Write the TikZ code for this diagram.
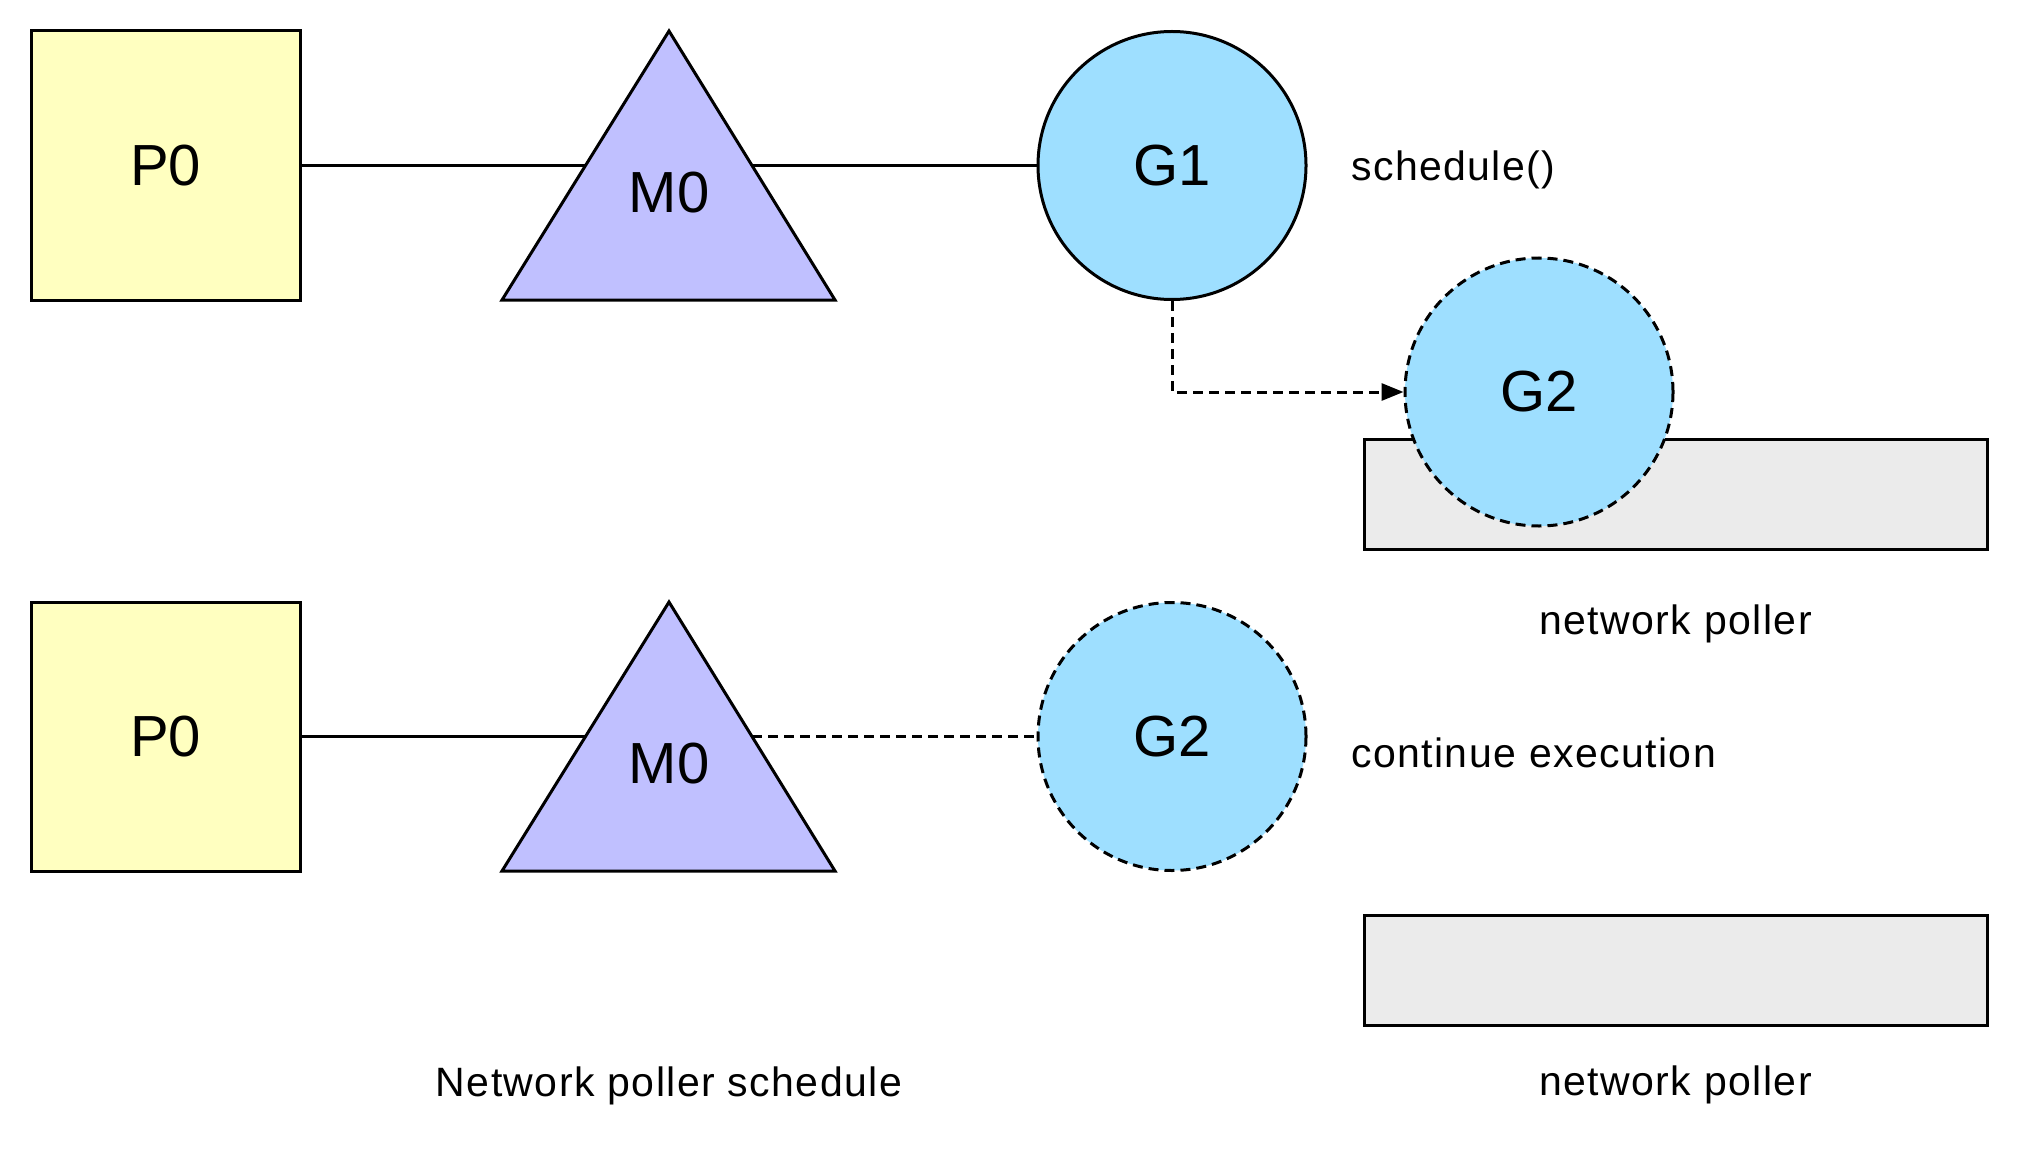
\documentclass[tikz,border=0pt]{standalone}
\usepackage{fontspec}
\setmainfont{Liberation Sans}
\newfontfamily\lblfont[LetterSpace=3.5]{Liberation Sans}
\usetikzlibrary{arrows.meta,calc}
\definecolor{pyellow}{HTML}{FFFFC0}
\definecolor{mpurple}{HTML}{C0C0FF}
\definecolor{gblue}{HTML}{9EDFFF}
\definecolor{pgray}{HTML}{EBEBEB}
\newcommand\mynodefont{\fontsize{58}{62}\selectfont}
\newcommand\mylblfont{\lblfont\fontsize{41}{46}\selectfont}
\begin{document}
\begin{tikzpicture}[x=1pt,y=-1pt,
  edge/.style={line width=3pt},
  dashedge/.style={line width=3pt, dash pattern=on 10pt off 6pt},
  pbox/.style={draw, line width=3pt, fill=pyellow, minimum width=269pt, minimum height=269pt, inner sep=0pt, font=\mynodefont},
  gcirc/.style={circle, draw, line width=3pt, fill=gblue, minimum size=268pt, inner sep=0pt, font=\mynodefont},
  gdash/.style={gcirc, dash pattern=on 10pt off 6pt},
  poller/.style={draw, line width=3pt, fill=pgray, minimum width=623pt, minimum height=110pt, inner sep=0pt},
  tri/.style={draw, line width=3pt, fill=mpurple, line join=miter},
  lbl/.style={font=\mylblfont, inner sep=0pt},
  mlabel/.style={font=\mynodefont, inner sep=0pt}
]
\useasboundingbox (0,0) rectangle (2020,1150);

% ---------- top row ----------
\node[pbox] (P0a) at (165.5,165.5) {P0};
\coordinate (m0aa) at (669,31);
\coordinate (m0al) at (502,300);
\coordinate (m0ar) at (835,300);
\draw[tri] (m0al) -- (m0aa) -- (m0ar) -- cycle;
\node[mlabel] (M0a) at (669,193) {M0};
\coordinate (m0ain) at ($(m0al)!0.5!(m0aa)$);
\coordinate (m0aout) at ($(m0ar)!0.5!(m0aa)$);
\node[gcirc] (G1) at (1172,165.5) {G1};
\draw[edge] (P0a.east) -- (m0ain);
\draw[edge] (m0aout) -- (G1.west);
\node[lbl, anchor=base west] (sched) at (1351,181) {schedule()};

\node[poller] (NPa) at (1675.5,494) {};
\node[gdash] (G2a) at (1539,392) {G2};
\draw[dashedge, -{Triangle[length=22pt,width=17pt]}] (G1.south) |- (G2a.west);
\node[lbl, anchor=base] (npla) at (1675.5,634) {network poller};

% ---------- bottom row ----------
\node[pbox] (P0b) at (165.5,736.5) {P0};
\coordinate (m0ba) at (669,602);
\coordinate (m0bl) at (502,871);
\coordinate (m0br) at (835,871);
\draw[tri] (m0bl) -- (m0ba) -- (m0br) -- cycle;
\node[mlabel] (M0b) at (669,764) {M0};
\coordinate (m0bin) at ($(m0bl)!0.5!(m0ba)$);
\coordinate (m0bout) at ($(m0br)!0.5!(m0ba)$);
\node[gdash] (G2b) at (1172,736.5) {G2};
\draw[edge] (P0b.east) -- (m0bin);
\draw[dashedge] (m0bout) -- (G2b.west);
\node[lbl, anchor=base west] (cont) at (1351,767) {continue execution};

\node[poller] (NPb) at (1675.5,970.5) {};
\node[lbl, anchor=base] (nplb) at (1675.5,1095) {network poller};
\node[lbl, anchor=base] (title) at (669,1096) {Network poller schedule};
\end{tikzpicture}
\end{document}
